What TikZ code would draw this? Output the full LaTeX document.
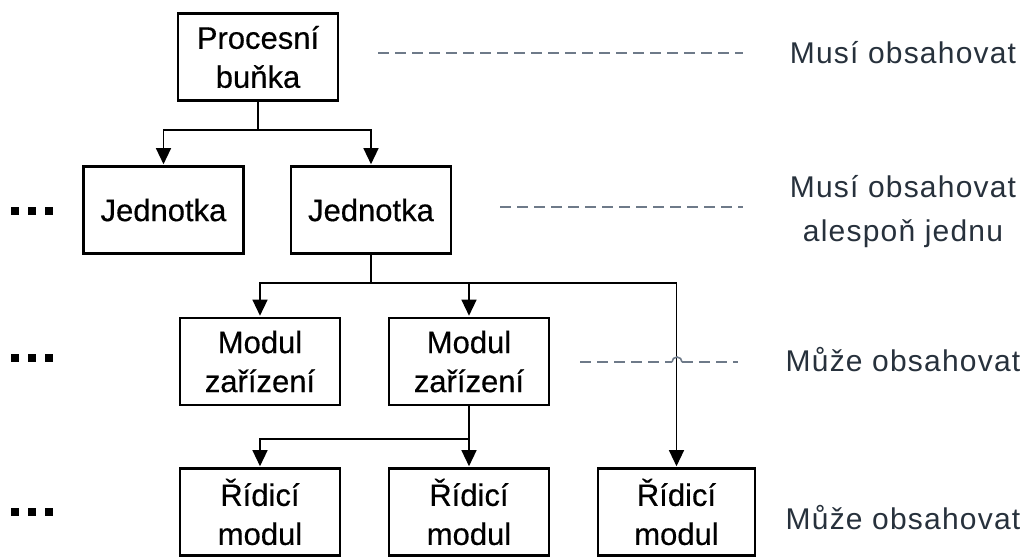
\documentclass[tikz,border=0pt]{standalone}
\usepackage{fontspec}
\setmainfont{Liberation Sans}
\newfontfamily\boxfont[FakeBold=0.4]{Liberation Sans}
\newfontfamily\notefont[LetterSpace=4]{Liberation Sans}
\usetikzlibrary{arrows.meta}
\definecolor{notetext}{HTML}{27313C}
\definecolor{guide}{HTML}{6E7A89}
\begin{document}
\begin{tikzpicture}[x=1pt,y=-1pt,
  unit/.style={draw, line width=2.6pt, minimum width=160pt, minimum height=87pt,
    inner sep=0pt, align=center, font=\boxfont\fontsize{31}{39}\selectfont},
  link/.style={line width=1.3pt},
  arr/.style={link, -{Triangle[length=16pt,width=15pt]}, shorten >=1pt},
  guideline/.style={draw=guide, line width=1.6pt, dash pattern=on 11pt off 6pt},
  hop/.style={draw=guide, line width=1.6pt},
  note/.style={align=center, text=notetext, font=\notefont\fontsize{30}{44}\selectfont},
  more/.style={fill=black, minimum size=8pt, inner sep=0pt}]
\useasboundingbox (0,0) rectangle (1030,557);

% hierarchy boxes
\node[unit] (pb) at (258,57) {Procesní\\buňka};
\node[unit] (j1) at (163.5,210) {Jednotka};
\node[unit] (j2) at (371,210) {Jednotka};
\node[unit] (m1) at (260,361.5) {Modul\\zařízení};
\node[unit] (m2) at (469,361.5) {Modul\\zařízení};
\node[unit] (r1) at (260,512) {Řídicí\\modul};
\node[unit] (r2) at (469,512) {Řídicí\\modul};
\node[unit, minimum width=157pt] (r3) at (676.5,512) {Řídicí\\modul};

% branch points
\coordinate (b1) at (258,130);
\coordinate (b2) at (371,283);
\coordinate (b3) at (469,439);

% connectors
\draw[link] (pb.south) -- (b1);
\draw[arr] (b1) -| (j1.north);
\draw[arr] (b1) -| (j2.north);
\draw[link] (j2.south) -- (b2);
\draw[arr] (b2) -| (m1.north);
\draw[arr] (b2) -| (m2.north);
\draw[arr] (b2) -| (r3.north);
\draw[link] (m2.south) -- (b3);
\draw[arr] (b3) -| (r1.north);
\draw[arr] (b3) -- (r2.north);

% level guides
\coordinate (g1a) at (378,53);  \coordinate (g1b) at (743,53);
\coordinate (g2a) at (500,207); \coordinate (g2b) at (743,207);
\coordinate (g3a) at (580,362); \coordinate (g3h) at (672,362);
\coordinate (g3k) at (682,362); \coordinate (g3b) at (738,362);
\draw[guideline] (g1a) -- (g1b);
\draw[guideline] (g2a) -- (g2b);
\draw[guideline] (g3a) -- (g3h);
\draw[hop] (g3h) arc[start angle=180, end angle=0, radius=5pt];
\draw[guideline] (g3k) -- (g3b);

% level notes
\node[note] (n1) at (903,53) {Musí obsahovat};
\node[note] (n2) at (903,212) {Musí obsahovat\\alespoň jednu};
\node[note] (n3) at (903,360) {Může obsahovat};
\node[note] (n4) at (903,518) {Může obsahovat};

% continuation marks
\foreach \r/\yy in {a/211, b/358, c/512}{
  \node[more] (d\r1) at (15,\yy) {};
  \node[more] (d\r2) at (32,\yy) {};
  \node[more] (d\r3) at (49,\yy) {};
}
\end{tikzpicture}
\end{document}
